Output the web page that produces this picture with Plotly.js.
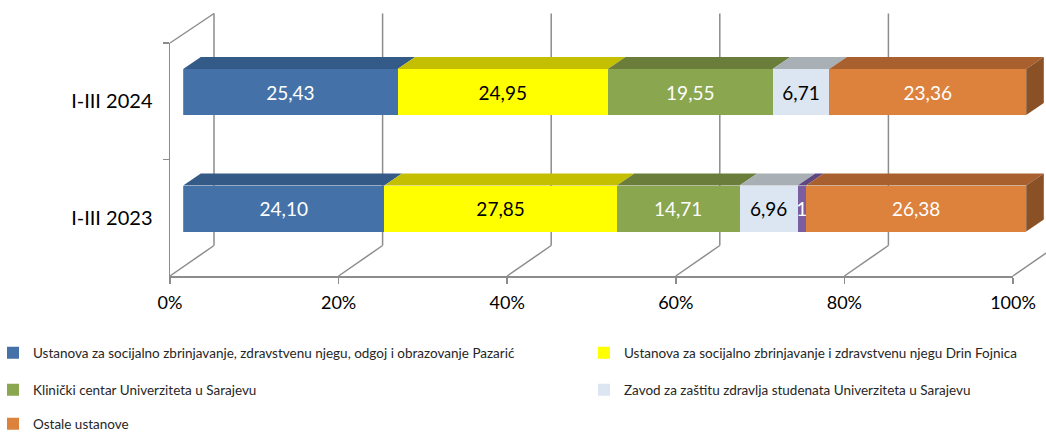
<!DOCTYPE html>
<html><head><meta charset="utf-8">
<script src="https://cdn.plot.ly/plotly-3.0.1.min.js"></script>
<style>html,body{margin:0;padding:0;background:#fff}#chart{width:1046px;height:432px}</style>
</head><body><div id="chart"></div>
<script>
// ---------- data ----------
const categories = ['I-III 2023', 'I-III 2024'];
const seriesNames = [
  'Ustanova za socijalno zbrinjavanje, zdravstvenu njegu, odgoj i obrazovanje Pazarić',
  'Ustanova za socijalno zbrinjavanje i zdravstvenu njegu Drin Fojnica',
  'Klinički centar Univerziteta u Sarajevu',
  'Zavod za zaštitu zdravlja studenata Univerziteta u Sarajevu',
  '',
  'Ostale ustanove'
];
const pazaric = [24.10, 25.43];
const drinFojnica = [27.85, 24.95];
const klinickiCentar = [14.71, 19.55];
const zavodStudenti = [6.96, 6.71];
const ostaloMalo = [1, 0];
const ostaleUstanove = [26.38, 23.36];
const xTickVals = [0, 20, 40, 60, 80, 100];
const xTickText = ['0%', '20%', '40%', '60%', '80%', '100%'];

// ---------- styling ----------
const seriesValues = [pazaric, drinFojnica, klinickiCentar, zavodStudenti, ostaloMalo, ostaleUstanove];
const frontColors = ['#4472A8', '#FFFF00', '#8AA64E', '#DCE6F2', '#7B5EA0', '#DD823D'];
const topColors   = ['#345A87', '#C4BF00', '#6A7D3A', '#A8B0B6', '#5E4680', '#A8602E'];
const sideColor = '#8A5026';
const textColors  = ['#FFFFFF', '#000000', '#FFFFFF', '#000000', '#FFFFFF', '#FFFFFF'];
const legendOf = ['legend', 'legend', 'legend2', 'legend2', 'legend', 'legend3'];
const legendWidths = [546, 412, 546, 412, 546, 546];
const FONT = 'Lato, Noto Sans, sans-serif';
const GRID = '#8C8C8C';

// geometry (pixels)
const W = 1046, H = 432, BM = 100;        // bottom margin holds the legends
const HP = H - BM;                          // plot-area height
const FX0 = 170, FX1 = 1013, FY0 = 43, FY1 = 276;
const DEPTH_X = 44, DEPTH_Y = 30.5;
const BAR_D0 = 0.3, BAR_D1 = 0.7, BAR_H = 46;
const pxPerUnit = (FX1 - FX0) / 100;
const x2Start = FX0 + BAR_D0 * DEPTH_X;
const x2RangeMax = (W - x2Start) / pxPerUnit;
const catPx = (FY1 - FY0) / categories.length;
const barW = BAR_H / catPx;
const barOffset = -barW / 2 + (BAR_D0 * DEPTH_Y) / catPx;
const faceDx = ((BAR_D1 - BAR_D0) * DEPTH_X) / pxPerUnit;
const faceDy = ((BAR_D1 - BAR_D0) * DEPTH_Y) / catPx;

const fmt = v => (v === 0 ? '' : Number.isInteger(v) ? String(v) : v.toFixed(2).replace('.', ','));

// ---------- traces ----------
// empty trace that only registers the front (tick) subplot x/y
const traces = [{type: 'scatter', mode: 'none', xaxis: 'x', yaxis: 'y', x: [], y: [],
  showlegend: false, hoverinfo: 'skip'}];
seriesValues.forEach((vals, i) => traces.push({
  type: 'bar', orientation: 'h', xaxis: 'x2', yaxis: 'y',
  y: categories, x: vals, name: seriesNames[i],
  width: barW, offset: barOffset,
  marker: {color: frontColors[i], line: {width: 0}},
  text: vals.map(fmt), texttemplate: '%{text}',
  textposition: 'inside', insidetextanchor: 'middle', constraintext: 'none',
  insidetextfont: {family: FONT, size: 19, color: textColors[i]},
  showlegend: seriesNames[i] !== '', legend: legendOf[i], legendwidth: legendWidths[i],
  hoverinfo: 'skip'
}));

// ---------- 3D walls and bar faces computed from the data ----------
const shapes = [];
const gridLine = {color: GRID, width: 1.5};
xTickVals.forEach(t => {
  const f = t / 100;
  shapes.push({type: 'line', layer: 'below', xref: 'x domain', yref: 'y domain',
    xsizemode: 'pixel', ysizemode: 'pixel', xanchor: f, yanchor: 0,
    x0: 0, x1: DEPTH_X, y0: 0, y1: DEPTH_Y, line: gridLine});
  shapes.push({type: 'line', layer: 'below', xref: 'x domain', yref: 'y domain',
    xsizemode: 'pixel', ysizemode: 'pixel', xanchor: f, yanchor: 0,
    x0: DEPTH_X, x1: DEPTH_X, y0: DEPTH_Y, y1: (FY1 - FY0) + DEPTH_Y - 1, line: gridLine});
});
shapes.push({type: 'line', layer: 'below', xref: 'x domain', yref: 'y domain',
  xsizemode: 'pixel', ysizemode: 'pixel', xanchor: 0, yanchor: 1,
  x0: 0, x1: DEPTH_X, y0: 0, y1: DEPTH_Y - 1, line: gridLine});

categories.forEach((c, ci) => {
  const total = seriesValues.reduce((s, arr) => s + arr[ci], 0);
  let cum = 0;
  const yBot = ci + barOffset, yTop = ci + barOffset + barW;
  seriesValues.forEach((arr, si) => {
    const pct = arr[ci] / total * 100;
    if (pct <= 0) return;
    const x0 = cum, x1 = cum + pct;
    shapes.push({type: 'path', layer: 'below', xref: 'x2', yref: 'y',
      path: `M${x0},${yTop}L${x1},${yTop}L${x1 + faceDx},${yTop + faceDy}L${x0 + faceDx},${yTop + faceDy}Z`,
      fillcolor: topColors[si], line: {width: 0}});
    cum = x1;
  });
  shapes.push({type: 'path', layer: 'below', xref: 'x2', yref: 'y',
    path: `M${cum},${yBot}L${cum},${yTop}L${cum + faceDx},${yTop + faceDy}L${cum + faceDx},${yBot + faceDy}Z`,
    fillcolor: sideColor, line: {width: 0}});
});

// ---------- layout ----------
const legendBase = {orientation: 'h', xanchor: 'left', yanchor: 'middle', x: -7 / W,
  traceorder: 'normal', entrywidthmode: 'pixels', bgcolor: 'rgba(0,0,0,0)',
  font: {family: FONT, size: 13.5, color: '#262626'}};

const layout = {
  width: W, height: H,
  margin: {l: 0, r: 0, t: 0, b: BM, pad: 0, autoexpand: false},
  paper_bgcolor: '#FFFFFF', plot_bgcolor: 'rgba(0,0,0,0)',
  barmode: 'stack', barnorm: 'percent',
  font: {family: FONT, color: '#000000'},
  xaxis: {domain: [FX0 / W, FX1 / W], range: [0, 100], anchor: 'y', fixedrange: true,
    tickmode: 'array', tickvals: xTickVals, ticktext: xTickText,
    showline: true, linecolor: GRID, linewidth: 1.5, ticks: 'outside', ticklen: 6,
    tickcolor: GRID, tickwidth: 1.5, showgrid: false, zeroline: false,
    tickfont: {family: FONT, size: 18, color: '#000000'}, ticklabelstandoff: 4},
  xaxis2: {domain: [x2Start / W, 1], range: [0, x2RangeMax], anchor: 'y', visible: false, fixedrange: true},
  yaxis: {domain: [1 - FY1 / HP, 1 - FY0 / HP], anchor: 'x', type: 'category', categoryorder: 'array',
    categoryarray: categories, range: [-0.5, categories.length - 0.5], fixedrange: true,
    showline: true, linecolor: GRID, linewidth: 1.5, ticks: 'outside', ticklen: 6,
    tickcolor: GRID, tickwidth: 1.5, tickson: 'boundaries', showgrid: false, zeroline: false,
    tickfont: {family: FONT, size: 20, color: '#000000'}, ticklabelstandoff: 12},
  shapes: shapes,
  legend: Object.assign({}, legendBase, {y: 1 - 353 / HP}),
  legend2: Object.assign({}, legendBase, {y: 1 - 390 / HP}),
  legend3: Object.assign({}, legendBase, {y: 1 - 424 / HP}),
  hovermode: false
};

Plotly.newPlot('chart', traces, layout, {displayModeBar: false, staticPlot: true});
</script></body></html>
